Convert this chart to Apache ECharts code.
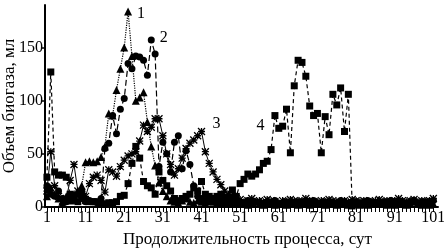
<!DOCTYPE html>
<html><head><meta charset="utf-8">
<script src="https://cdn.jsdelivr.net/npm/echarts@6/dist/echarts.min.js"></script>
<style>html,body{margin:0;padding:0;background:#fff}#c{width:444px;height:249px}</style>
</head><body><div id="c"></div>
<script>
// Series 1: triangles, dotted
const s1 = [10,18,12,8,5,10,6,12,15,20, 42,43,42,43,47,57,88,86,110,130, 150,184,142,100,103,108,80,57,39,23,
  15,10,6,5,4,6,8,5,4,6, 5,4,6,5,4,3,5,4,3,4, 3,4,2,3,5,3,2,4,3,2, 3,4,2,3,3,2,4,3,2,3,
  5,3,2,3,4,2,3,3,2,4, 3,2,3,2,4,3,5,3,2,3, 2,4,3,2,3,5,3,2,3,2, 3];
// Series 2: circles, long dashes
const s2 = [20,12,10,15,8,5,10,6,12,8, 5,6,5,4,8,55,60,86,69,92, 102,135,130,142,141,138,124,157,144,38,
  61,50,33,61,67,36,53,40,20,10, 8,6,5,7,5,6,4,5,6,4, 5,4,6,3,5,4,3,5,4,6, 3,4,5,3,4,5,4,3,5,6,
  4,3,5,4,3,4,6,5,3,4, 5,4,3,6,5,4,3,5,4,6, 5,4,3,4,5,6,4,3,5,4, 6];
// Series 3: asterisks, solid
const s3 = [15,52,20,10,3,8,25,40,15,12, 10,22,28,30,25,14,35,33,29,38, 44,48,50,52,62,77,71,75,83,83,
  67,50,40,30,36,46,55,60,63,67, 71,52,41,33,26,21,15,12,10,8, 7,5,6,8,4,6,5,7,6,5, 4,6,5,7,6,5,6,8,6,5,
  4,6,5,7,6,5,4,6,5,7, 6,5,6,5,4,6,7,5,6,5, 6,8,6,5,6,7,5,6,5,6, 8];
// Series 4: squares, dashed
const s4 = [28,127,33,30,30,28,12,8,5,14, 6,5,5,5,3,3,4,4,5,10, 11,22,41,57,46,24,20,18,12,33,
  25,20,15,8,6,8,10,12,18,15, 24,12,10,8,10,12,9,8,16,10, 22,26,31,29,31,35,41,43,54,86,
  74,76,92,51,114,138,136,123,95,86, 88,51,85,68,106,96,112,71,106,1];
const xTickLabels = [1,11,21,31,41,51,61,71,81,91,101];
const yTickLabels = [0,50,100,150];
const seriesNames = ['1','2','3','4'];
const labelDays = [22,28,41,60];

const days = [];
for (let d = 1; d <= 101; d++) days.push(d);

const FONT = 'Liberation Serif';
const chart = echarts.init(document.getElementById('c'), null, {renderer:'canvas'});

function toData(arr, sIdx, pos, offset) {
  return arr.map((v, i) => {
    const item = {value:[days[i], v]};
    if (days[i] === labelDays[sIdx]) {
      item.label = {show:true, formatter: seriesNames[sIdx], position: pos, offset: offset,
        fontFamily: FONT, fontSize: 16, color:'#000'};
    }
    return item;
  });
}
const star = 'path://M0,0L10,10M10,0L0,10M5,0L5,10M0,5L10,5';

chart.setOption({
  animation:false,
  backgroundColor:'#fff',
  grid:{left:45, right:6, top:5, bottom:42, containLabel:false, outerBoundsMode:'none'},
  xAxis:{
    type:'value', min:0.5, max:102.2,
    name:'Продолжительность процесса, сут', nameLocation:'middle', nameGap:24, nameMoveOverlap:false,
    nameTextStyle:{fontFamily:FONT, fontSize:17, color:'#000', padding:[0,0,0,12]},
    axisLine:{show:true, onZero:false, lineStyle:{color:'#000', width:2}},
    axisTick:{show:true, customValues:days, length:5, lineStyle:{color:'#000', width:1}},
    axisLabel:{customValues:xTickLabels, fontFamily:FONT, fontSize:16, color:'#000', margin:3},
    splitLine:{show:false}
  },
  yAxis:{
    type:'value', min:0, max:190,
    name:'Объем биогаза, мл', nameLocation:'middle', nameGap:27, nameMoveOverlap:false,
    nameTextStyle:{fontFamily:FONT, fontSize:17, color:'#000'},
    axisLine:{show:true, lineStyle:{color:'#000', width:2}},
    axisTick:{show:true, customValues:yTickLabels, length:4, lineStyle:{color:'#000', width:1.5}},
    axisLabel:{customValues:yTickLabels, fontFamily:FONT, fontSize:16, color:'#000', margin:2},
    splitLine:{show:false}
  },
  series:[
    {type:'line', name:'1', data:toData(s1,0,'right',[0,2]), symbol:'triangle', symbolSize:8,
      itemStyle:{color:'#000'}, lineStyle:{color:'#000', width:1.2, type:'dotted'}, z:3},
    {type:'line', name:'2', data:toData(s2,1,'right',[0,-2]), symbol:'circle', symbolSize:7,
      itemStyle:{color:'#000'}, lineStyle:{color:'#000', width:1.2, type:[6,3]}, z:4},
    {type:'line', name:'3', data:toData(s3,2,'right',[0,-8]), symbol:star, symbolSize:7,
      itemStyle:{color:'none', borderColor:'#000', borderWidth:1.3}, lineStyle:{color:'#000', width:1}, z:5},
    {type:'line', name:'4', data:toData(s4,3,'left',[-2,10]), symbol:'rect', symbolSize:7,
      itemStyle:{color:'#000'}, lineStyle:{color:'#000', width:1.2, type:[4,3]}, z:2}
  ]
});
</script></body></html>
